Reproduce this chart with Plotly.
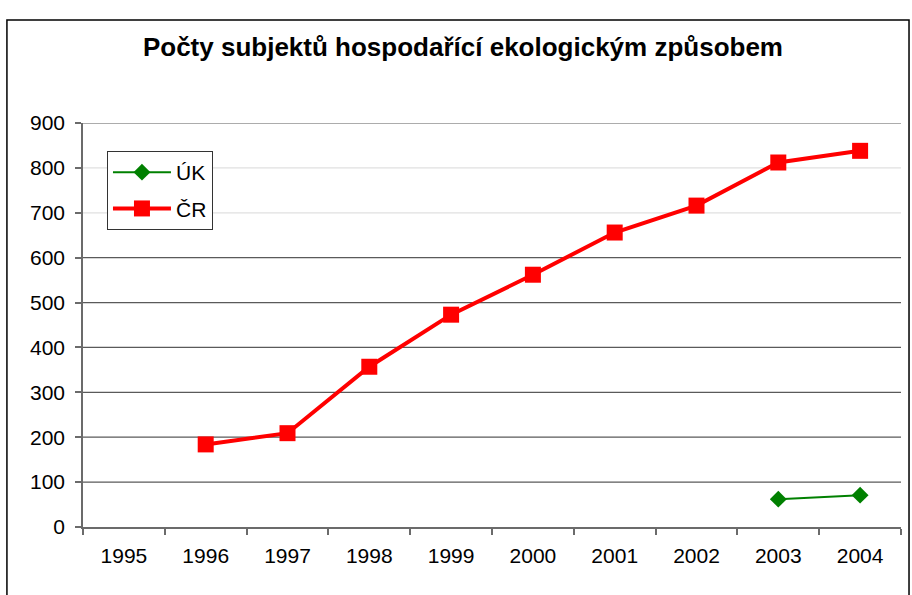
import plotly.graph_objects as go

years = ["1995", "1996", "1997", "1998", "1999", "2000", "2001", "2002", "2003", "2004"]
uk_values = [None, None, None, None, None, None, None, None, 62, 71]
cr_values = [None, 184, 209, 357, 473, 562, 656, 716, 812, 838]
y_ticks = [0, 100, 200, 300, 400, 500, 600, 700, 800, 900]
light_grid = [700, 800]

FONT = "Liberation Sans, Arial, sans-serif"

fig = go.Figure()
fig.add_trace(go.Scatter(
    x=years, y=uk_values, name="ÚK", mode="lines+markers",
    line=dict(color="#008000", width=2),
    marker=dict(symbol="diamond", size=13, color="#008000"),
    legendgroup="a",
))
fig.add_trace(go.Scatter(
    x=years, y=cr_values, name="ČR", mode="lines+markers",
    line=dict(color="#ff0000", width=4),
    marker=dict(symbol="square", size=16, color="#ff0000"),
    legendgroup="b",
))

shapes = []
for v in y_ticks[1:]:
    shapes.append(dict(
        type="line", xref="paper", yref="y", x0=0, x1=1, y0=v, y1=v,
        line=dict(color="#e0e0e0" if v in light_grid else "#5a5a5a", width=1.2),
        layer="below",
    ))
# outer chart frame
shapes.append(dict(
    type="rect", xref="paper", yref="paper",
    x0=-0.093, x1=1.0098, y0=-0.3, y1=1.255,
    line=dict(color="black", width=1.5), fillcolor="rgba(0,0,0,0)",
    layer="below",
))

fig.update_layout(
    width=912, height=595,
    margin=dict(l=83, r=11, t=123, b=68),
    paper_bgcolor="white", plot_bgcolor="white",
    font=dict(family=FONT, size=21, color="black"),
    title=dict(
        text="<b>Počty subjektů hospodařící ekologickým způsobem</b>",
        font=dict(family=FONT, size=26, color="black"),
        x=0.4645, xref="paper", xanchor="center",
        y=0.921, yref="container", yanchor="middle",
    ),
    showlegend=True,
    legend=dict(
        x=0.0293, y=0.9307, xanchor="left", yanchor="top",
        bgcolor="white", bordercolor="#333333", borderwidth=1,
        font=dict(family=FONT, size=21, color="black"),
        tracegroupgap=6, itemwidth=58,
        traceorder="grouped",
    ),
    shapes=shapes,
)

fig.update_xaxes(
    type="category", categoryorder="array", categoryarray=years,
    range=[-0.5, 9.5],
    showgrid=False, showline=True, linecolor="#6b6b6b", linewidth=1.5,
    ticks="outside", ticklen=6, tickcolor="#6b6b6b", tickwidth=1.5,
    tickson="boundaries", ticklabelstandoff=9,
    tickfont=dict(family=FONT, size=21, color="black"),
    zeroline=False,
)
fig.update_yaxes(
    range=[0, 900], tickvals=y_ticks,
    showgrid=False, showline=True, linecolor="#6b6b6b", linewidth=1.5,
    ticks="outside", ticklen=6, tickcolor="#6b6b6b", tickwidth=1.5,
    ticklabelstandoff=6,
    tickfont=dict(family=FONT, size=21, color="black"),
    zeroline=False,
)

fig.write_html("out.html", config={"displayModeBar": False},
               post_script="document.body.style.margin='0';")
